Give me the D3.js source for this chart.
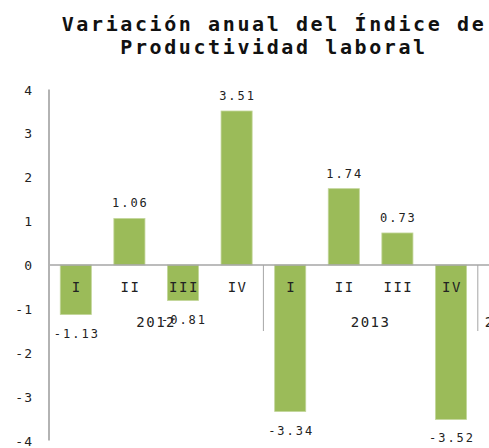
<!DOCTYPE html>
<head>
<meta charset="utf-8">
<style>
body { margin: 0; background: #fff; }
text { font-family: "DejaVu Sans Mono", monospace; fill: #222; }
.title { font-weight: bold; font-size: 20px; letter-spacing: 2.6px; fill: #111; }
.tick { font-size: 13px; letter-spacing: 1px; }
.val { font-size: 12px; letter-spacing: 2px; }
.cat { font-size: 14px; letter-spacing: 1.5px; }
</style>
<script src="https://cdn.jsdelivr.net/npm/d3@7"></script>
</head>
<body>
<svg class="chart" width="489" height="448"></svg>
<script>
// Quarters, years and values.
var quarters = ["I", "II", "III", "IV", "I", "II", "III", "IV", "I"];
var years = ["2012", "2012", "2012", "2012", "2013", "2013", "2013", "2013", "2014"];
var values = [-1.13, 1.06, -0.81, 3.51, -3.34, 1.74, 0.73, -3.52, null];
var yTicks = [4, 3, 2, 1, 0, -1, -2, -3, -4];
var titleLines = ["Variación anual del Índice de", "Productividad laboral"];

var svg = d3.select(".chart");
var left = 49, band = 53.6;

var x = d3.scaleBand()
  .domain(d3.range(values.length))
  .range([left, left + band * values.length])
  .paddingInner(0.42).paddingOuter(0.21);
var y = d3.scaleLinear().domain([-4, 4]).range([440.5, 89.5]);

// Title
svg.append("g").selectAll("text").data(titleLines).enter().append("text")
  .attr("class", "title")
  .attr("x", 274)
  .attr("y", function(d, i) { return 31 + i * 23; })
  .attr("text-anchor", "middle")
  .text(function(d) { return d; });

// Bars
var data = values.map(function(v, i) { return {i: i, v: v}; }).filter(function(d) { return d.v !== null; });
svg.append("g").selectAll("rect").data(data).enter().append("rect")
  .attr("x", function(d) { return x(d.i); })
  .attr("width", x.bandwidth())
  .attr("y", function(d) { return y(Math.max(0, d.v)); })
  .attr("height", function(d) { return Math.abs(y(d.v) - y(0)); })
  .attr("fill", "#9bbb59")
  .attr("stroke", "#c3d69b")
  .attr("stroke-width", 0.8);

// Zero line and vertical axis
svg.append("line")
  .attr("x1", left).attr("x2", 489)
  .attr("y1", y(0)).attr("y2", y(0))
  .attr("stroke", "#a6a6a6").attr("stroke-width", 1.5);
svg.append("line")
  .attr("x1", left).attr("x2", left)
  .attr("y1", y(4)).attr("y2", y(-4))
  .attr("stroke", "#b3b3b3").attr("stroke-width", 2);

// Y tick labels
svg.append("g").selectAll("text").data(yTicks).enter().append("text")
  .attr("class", "tick")
  .attr("x", 33)
  .attr("y", function(d) { return y(d) + 5; })
  .attr("text-anchor", "end")
  .text(function(d) { return d; });

// Value labels
svg.append("g").selectAll("text").data(data).enter().append("text")
  .attr("class", "val")
  .attr("x", function(d) { return x(d.i) + x.bandwidth() / 2 + 1; })
  .attr("y", function(d) { return d.v >= 0 ? y(d.v) - 11 : y(d.v) + 23; })
  .attr("text-anchor", "middle")
  .text(function(d) { return d.v.toFixed(2); });

// Quarter labels
svg.append("g").selectAll("text").data(quarters).enter().append("text")
  .attr("class", "cat")
  .attr("x", function(d, i) { return x(i) + x.bandwidth() / 2 + 1; })
  .attr("y", y(0) + 27)
  .attr("text-anchor", "middle")
  .text(function(d) { return d; });

// Year groups: separators and labels
var groups = d3.groups(d3.range(years.length), function(i) { return years[i]; });
var step = x.step();
groups.forEach(function(g, k) {
  var first = g[1][0], last = g[1][g[1].length - 1];
  var x0 = left + first * step, x1 = left + (last + 1) * step;
  if (k > 0) {
    svg.append("line")
      .attr("x1", x0).attr("x2", x0)
      .attr("y1", y(0)).attr("y2", y(0) + 66)
      .attr("stroke", "#a6a6a6").attr("stroke-width", 1);
  }
  svg.append("text")
    .attr("class", "cat")
    .attr("x", (x0 + x1) / 2)
    .attr("y", y(0) + 62)
    .attr("text-anchor", "middle")
    .text(g[0]);
});
</script>
</body>
